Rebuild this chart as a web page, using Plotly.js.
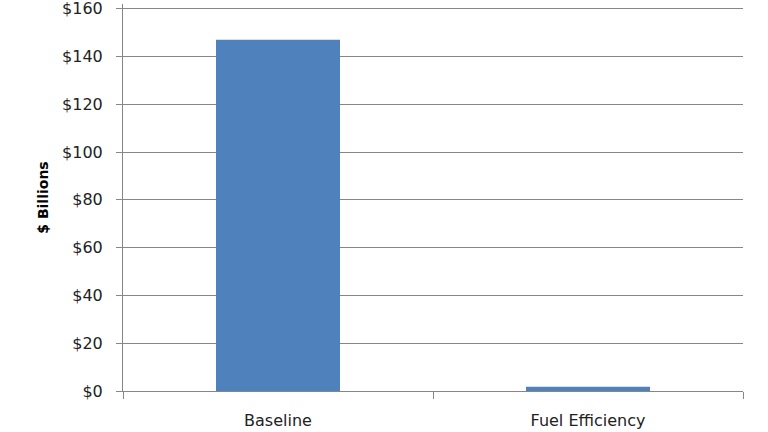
<!DOCTYPE html>
<html><head><meta charset="utf-8">
<script src="https://cdn.plot.ly/plotly-3.0.1.min.js"></script>
<style>html,body{margin:0;padding:0;background:#fff}#chart{width:768px;height:432px}</style>
</head><body><div id="chart"></div>
<script>
const categories = ["Baseline", "Fuel Efficiency"];
const values = [147, 1.8];
const yTickVals = [0, 20, 40, 60, 80, 100, 120, 140, 160];
const yTickText = ["$0", "$20", "$40", "$60", "$80", "$100", "$120", "$140", "$160"];

Plotly.newPlot("chart", [{
  type: "bar",
  x: categories,
  y: values,
  marker: {color: "#4F81BD"},
  hoverinfo: "x+y"
}], {
  width: 768, height: 432,
  margin: {l: 123, r: 25, t: 4, b: 41},
  paper_bgcolor: "#fff", plot_bgcolor: "#fff",
  bargap: 0.6,
  font: {family: "DejaVu Sans, sans-serif", size: 16, color: "#222"},
  xaxis: {
    type: "category",
    showline: true, linecolor: "#868686", linewidth: 1,
    ticks: "outside", tickson: "boundaries", ticklen: 7, tickcolor: "#868686",
    tickfont: {size: 16},
    ticklabelstandoff: 15,
    showgrid: false
  },
  yaxis: {
    range: [0, 162],
    tickvals: yTickVals, ticktext: yTickText,
    showline: true, linecolor: "#868686", linewidth: 1,
    ticks: "outside", ticklen: 6, tickcolor: "#868686",
    showgrid: true, gridcolor: "#868686", gridwidth: 1,
    zeroline: false,
    tickfont: {size: 16},
    ticklabelstandoff: 10,
    ticklabeloverflow: "allow",
    title: {text: "<b>$ Billions</b>", font: {size: 14, color: "#000"}, standoff: 10}
  },
  showlegend: false
}, {displayModeBar: false, staticPlot: true});
</script></body></html>
